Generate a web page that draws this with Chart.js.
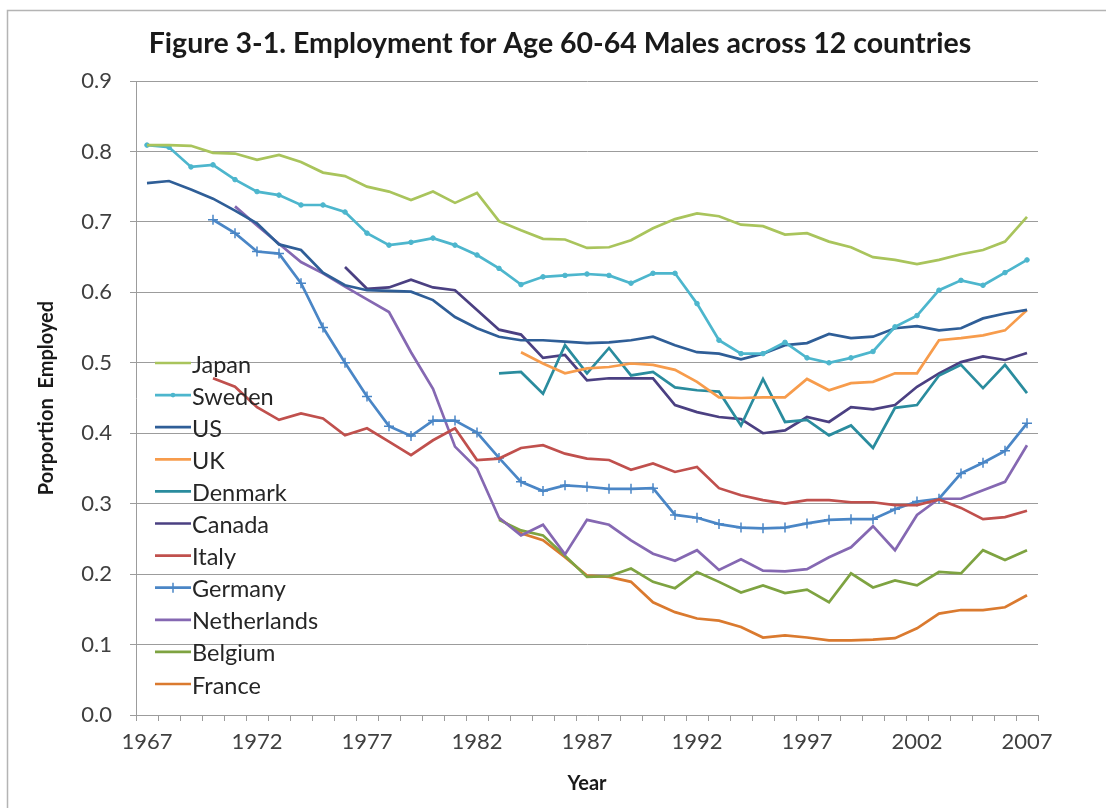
<!DOCTYPE html>
<html>
<head>
<meta charset="utf-8">
<script src="https://cdn.jsdelivr.net/npm/chart.js@4.4.1/dist/chart.umd.min.js"></script>
<style>
  html, body { margin: 0; padding: 0; background: #ffffff; }
  #wrap { position: relative; width: 1106px; height: 808px; }
  canvas { display: block; }
</style>
</head>
<body>
<div id="wrap"><canvas id="c" width="1106" height="808"></canvas></div>
<script>
const years = ['1967','1968','1969','1970','1971','1972','1973','1974','1975','1976',
  '1977','1978','1979','1980','1981','1982','1983','1984','1985','1986',
  '1987','1988','1989','1990','1991','1992','1993','1994','1995','1996',
  '1997','1998','1999','2000','2001','2002','2003','2004','2005','2006','2007'];

const japan = [0.809,0.809,0.808,0.798,0.797,0.788,0.795,0.785,0.770,0.765,
  0.750,0.743,0.731,0.743,0.727,0.741,0.701,0.688,0.676,0.675,
  0.663,0.664,0.674,0.691,0.704,0.712,0.708,0.696,0.694,0.682,
  0.684,0.672,0.664,0.650,0.646,0.640,0.646,0.654,0.660,0.672,0.707];
const sweden = [0.809,0.806,0.778,0.781,0.760,0.743,0.738,0.724,0.724,0.714,
  0.684,0.667,0.671,0.677,0.667,0.653,0.634,0.611,0.622,0.624,
  0.626,0.624,0.613,0.627,0.627,0.584,0.532,0.513,0.513,0.529,
  0.507,0.500,0.507,0.516,0.551,0.567,0.603,0.617,0.610,0.628,0.646];
const us = [0.755,0.758,0.746,0.733,0.716,0.698,0.668,0.660,0.628,0.610,
  0.603,0.602,0.601,0.589,0.565,0.549,0.537,0.532,0.532,0.530,
  0.528,0.529,0.532,0.537,0.525,0.515,0.513,0.505,0.513,0.525,
  0.528,0.541,0.535,0.537,0.549,0.552,0.546,0.549,0.563,0.570,0.575];
const uk = [null,null,null,null,null,null,null,null,null,null,
  null,null,null,null,null,null,null,0.515,0.499,0.485,
  0.492,0.494,0.499,0.497,0.490,0.473,0.451,0.450,0.451,0.451,
  0.477,0.461,0.471,0.473,0.485,0.485,0.532,0.535,0.539,0.546,0.575];
const denmark = [null,null,null,null,null,null,null,null,null,null,
  null,null,null,null,null,null,0.485,0.487,0.456,0.525,
  0.485,0.521,0.482,0.487,0.465,0.461,0.459,0.411,0.477,0.416,
  0.419,0.397,0.411,0.379,0.436,0.440,0.482,0.497,0.464,0.497,0.457];
const canada = [null,null,null,null,null,null,null,null,null,0.636,
  0.605,0.607,0.618,0.607,0.603,0.575,0.547,0.540,0.507,0.511,
  0.475,0.478,0.478,0.478,0.440,0.430,0.423,0.420,0.400,0.404,
  0.423,0.416,0.437,0.434,0.440,0.466,0.485,0.501,0.509,0.504,0.514];
const italy = [null,null,null,0.478,0.466,0.437,0.419,0.428,0.421,0.397,
  0.407,0.388,0.369,0.390,0.407,0.362,0.364,0.379,0.383,0.371,
  0.364,0.362,0.348,0.357,0.345,0.352,0.322,0.312,0.305,0.300,
  0.305,0.305,0.302,0.302,0.298,0.298,0.306,0.294,0.278,0.281,0.290];
const germany = [null,null,null,0.703,0.684,0.658,0.655,0.613,0.550,0.500,
  0.452,0.410,0.396,0.418,0.418,0.401,0.365,0.331,0.318,0.326,
  0.324,0.321,0.321,0.322,0.284,0.280,0.271,0.266,0.265,0.266,
  0.272,0.277,0.278,0.278,0.292,0.303,0.307,0.343,0.358,0.375,0.414];
const netherlands = [null,null,null,null,0.722,0.695,0.669,0.643,0.627,0.608,
  0.590,0.572,0.515,0.463,0.381,0.350,0.280,0.255,0.270,0.228,
  0.277,0.270,0.248,0.229,0.219,0.234,0.206,0.221,0.205,0.204,
  0.207,0.224,0.238,0.268,0.234,0.284,0.307,0.307,0.319,0.331,0.383];
const belgium = [null,null,null,null,null,null,null,null,null,null,
  null,null,null,null,null,null,0.277,0.262,0.255,0.226,
  0.196,0.197,0.208,0.189,0.180,0.203,0.189,0.174,0.184,0.173,
  0.178,0.160,0.201,0.181,0.191,0.184,0.203,0.201,0.234,0.220,0.234];
const france = [null,null,null,null,null,null,null,null,null,null,
  null,null,null,null,null,null,0.279,0.258,0.248,0.224,
  0.198,0.196,0.189,0.160,0.146,0.137,0.134,0.125,0.110,0.113,
  0.110,0.106,0.106,0.107,0.109,0.123,0.144,0.149,0.149,0.153,0.170];

const seriesNames = ['Japan','Sweden','US','UK','Denmark','Canada','Italy','Germany','Netherlands','Belgium','France'];
const seriesValues = [japan, sweden, us, uk, denmark, canada, italy, germany, netherlands, belgium, france];
const seriesColors = ['#A9C45C','#4DB6CD','#2F5E97','#F79C4C','#2A8C9E','#4B4082','#C0504D','#4A86C6','#8568B2','#7EA341','#DA7A2F'];
const seriesMarkers = ['none','circle','none','none','none','none','none','cross','none','none','none'];

const FONT = 'Lato, "Open Sans", sans-serif';
const GRID = '#9c9c9c';

const datasets = seriesNames.map((name, i) => ({
  label: name,
  data: seriesValues[i],
  borderColor: seriesColors[i],
  backgroundColor: seriesColors[i],
  borderWidth: 2.7,
  tension: 0,
  spanGaps: false,
  pointStyle: seriesMarkers[i] === 'none' ? 'circle' : seriesMarkers[i],
  pointRadius: seriesMarkers[i] === 'none' ? 0 : (seriesMarkers[i] === 'cross' ? 5 : 2.3),
  pointBorderWidth: seriesMarkers[i] === 'cross' ? 1.5 : 1,
  pointHoverRadius: 0
}));

const insideLegend = {
  id: 'insideLegend',
  afterDatasetsDraw(chart) {
    const ctx = chart.ctx, ca = chart.chartArea;
    ctx.save();
    ctx.font = '23.5px ' + FONT;
    ctx.textBaseline = 'middle';
    ctx.textAlign = 'left';
    chart.data.datasets.forEach((ds, i) => {
      const y = ca.top + 282 + i * 32.1;
      const x = ca.left + 19;
      ctx.strokeStyle = ds.borderColor;
      ctx.lineWidth = 2.7;
      ctx.beginPath(); ctx.moveTo(x, y); ctx.lineTo(x + 36, y); ctx.stroke();
      if (seriesMarkers[i] === 'circle') {
        ctx.fillStyle = ds.borderColor;
        ctx.beginPath(); ctx.arc(x + 18, y, 2.3, 0, Math.PI * 2); ctx.fill();
      } else if (seriesMarkers[i] === 'cross') {
        ctx.lineWidth = 1.5;
        ctx.beginPath(); ctx.moveTo(x + 18, y - 5); ctx.lineTo(x + 18, y + 5); ctx.stroke();
      }
      ctx.fillStyle = '#262626';
      ctx.fillText(ds.label, x + 37, y + 2);
    });
    ctx.restore();
  }
};

const frame = {
  id: 'frame',
  beforeDraw(chart) {
    const ctx = chart.ctx;
    ctx.save();
    ctx.strokeStyle = '#b4b4b4';
    ctx.lineWidth = 1.5;
    ctx.beginPath();
    ctx.moveTo(7.5, 808); ctx.lineTo(7.5, 10.5); ctx.lineTo(1106, 10.5);
    ctx.stroke();
    ctx.restore();
  },
  afterLayout(chart) {
    if (chart.titleBlock) { chart.titleBlock.left = 14; chart.titleBlock.right = 1106; }
  }
};

new Chart(document.getElementById('c'), {
  type: 'line',
  data: { labels: years, datasets: datasets },
  plugins: [frame, insideLegend],
  options: {
    responsive: false,
    animation: false,
    events: [],
    layout: { padding: { top: 0, left: 0, right: 68, bottom: 0 } },
    plugins: {
      legend: { display: false },
      tooltip: { enabled: false },
      title: {
        display: true,
        text: 'Figure 3-1. Employment for Age 60-64 Males across 12 countries',
        color: '#1a1a1a',
        font: { family: FONT, size: 28.5, weight: 'bold' },
        padding: { top: 27, bottom: 19.8 }
      }
    },
    scales: {
      x: {
        type: 'category',
        offset: true,
        grid: { display: true, drawOnChartArea: false, drawTicks: true, tickLength: 6, offset: true, color: GRID },
        border: { display: true, color: GRID, width: 1 },
        ticks: {
          autoSkip: false, maxRotation: 0, minRotation: 0, padding: 8,
          color: '#404040', font: { family: FONT, size: 22 },
          callback: function (v, i) { const y = years[i]; return (parseInt(y, 10) - 1967) % 5 === 0 ? y : ''; }
        },
        title: { display: true, text: 'Year', color: '#1a1a1a', font: { family: FONT, size: 20, weight: 'bold' }, padding: { top: 0, bottom: 12 } },
        afterFit: function (s) { s.height = 93; }
      },
      y: {
        min: 0, max: 0.9,
        grid: { color: GRID, lineWidth: 1, tickLength: 6, drawTicks: true },
        border: { display: true, color: GRID, width: 1 },
        ticks: {
          stepSize: 0.1, padding: 18, color: '#404040', font: { family: FONT, size: 22 },
          callback: function (v) { return v.toFixed(1); }
        },
        title: { display: true, text: 'Porportion  Employed', color: '#1a1a1a', font: { family: FONT, size: 20, weight: 'bold' }, padding: { top: 35, bottom: 0 } },
        afterFit: function (s) { s.width = 136; }
      }
    }
  }
});
</script>
</body>
</html>
